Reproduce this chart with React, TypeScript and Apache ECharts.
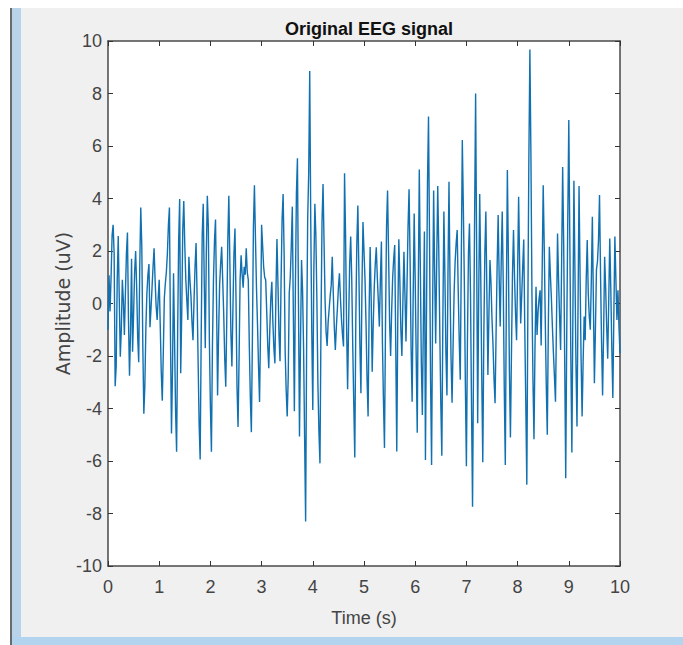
import React, { useEffect, useRef } from "react";
import * as echarts from "echarts";

const titleText = "Original EEG signal";
const xName = "Time (s)";
const yName = "Amplitude (uV)";
const samplePeriodS = 0.02;

const second0 = [-1, 1.08, -0.3, 1, 2.6, 3, 1.9, -3.15, -2.4, 0.9, 2.57, 0.2, -2.03, -1, 0.9, 0.1, -1.2, 0.4, 1.9, 2.7, -0.6, -2.75, -1.1, 1.7, -1.84, -0.4, 1.2, 2, 0.6, -1.3, -2.24, 1.4, 3.66, 2.2, -1.6, -4.2, -3.1, -0.9, 0.4, 1.1, 1.5, -0.9, -0.2, 0.6, 1.4, 2.1, 0.9, -0.1, -0.63, 0.2];
const second1 = [0.9, -0.8, -2.6, -3.7, -1.9, 0.2, 0.76, 1.2, 1.9, 3, 3.66, -1.2, -4.95, -2.5, 1.15, -1.4, -4.1, -5.65, -1.2, 2.4, 3.98, -2.66, -0.4, 2.8, 3.9, 2.2, 0.9, 0.1, -0.63, 1.78, 0.9, 0.3, -0.7, -1.4, 0.1, 1.4, 2.3, 0.3, -2.2, -4.6, -5.94, -1.3, 2.6, 3.8, 0.8, -1.7, 1.9, 4.1, 2.9, -1.4];
const second2 = [-3.9, -5.65, -1.6, 0.9, 2.4, 3.2, 0.1, -3.5, -1.2, 0.7, 1.5, 2.16, 0.9, -0.4, -2.1, -3.17, -0.6, 2.4, 4.1, 1.6, -1.1, -2.4, -0.2, 1.9, 2.86, 0.2, -3.2, -4.7, -2.1, 0.9, 1.84, 1.1, 0.6, 1.4, 1.1, 2.1, 1.2, 0.9, -1.6, -3.6, -4.9, -1.4, 2.9, 4.5, 2.5, 0.6, -0.8, -2.4, -3.75, -0.9];
const second3 = [3, 2.2, 1.4, 1, 0.9, -0.3, -1.6, -2.47, -1, 0.2, 0.83, -0.7, -1.7, -2.28, 0.4, 2.46, 0.7, -1.2, -2.2, 0.8, 3.2, 4.17, 1.9, -1.8, -3.3, -4.3, -2.8, 0.4, 1, 2.2, 3.69, -0.4, -4.1, 0.6, 4.2, 5.53, 0.1, -5.07, -1.5, 1.66, 0.5, -1.7, -5.1, -8.3, -1.4, 3.2, 5, 8.86, 3.1, -1.1];
const second4 = [-4.06, 1.2, 3.8, 2.6, 0.1, -3.1, -4.9, -6.09, -0.8, 3.1, 4.55, 2.3, 0.1, -1.1, -1.62, -0.7, -0.2, 0.3, 0.7, 1.78, 0.4, -0.9, -1.77, -0.9, -0.2, 0.6, 1.15, 0.2, -0.6, -1.2, -1.64, 4.96, 2.6, -0.9, -3.27, -0.7, 1.5, 2.55, 1, -1.6, -3.8, -5.87, -0.6, 2.3, 3.73, 1.2, -1.6, -3.42, 0.6, 3.1];
const second5 = [2, 0.9, -0.8, -2.9, -4.3, -0.3, 2.15, 0.2, -2.6, -0.8, 0.6, 1.5, 2.14, 1, 0.1, -0.88, 0.9, 2.36, -1.5, -3.7, -5.5, -0.8, 2.9, 4.3, 1.9, -0.7, -2, -0.3, 1, 1.7, 2.23, -1.6, -5.64, -0.6, 2.45, 0.9, -1, -2, 0.1, 1.97, 0.3, -1.45, 0.7, 2.9, 4.35, 1.7, -1.7, -3.74, 0.2, 3.43];
const second6 = [0.9, -2.1, -4.92, 0.6, 5.1, 1.4, -2.3, -4.25, -0.6, 2.74, -5.96, -0.6, 4.6, 7.12, 2.4, -2.9, -6.15, -0.3, 4.3, 1.2, -1.52, 1.6, 4.48, 2.1, -1, -3.8, -5.8, -0.7, 3.5, 1.1, -1.9, -3.5, 1.1, 4.64, 0.8, -2.1, -3.78, -1.6, 0.4, 1.6, 2.3, 2.8, 0.5, -1.4, -2.9, 1.6, 6.23, 3.7, 0.8, -3.1];
const second7 = [-6.2, -1.5, 1.9, 3.05, 0.4, -3.9, -7.74, -2.1, 3.2, 8, 2.1, -4.56, 0.2, 4.17, 1.1, -2.8, -6.05, -1.3, 1.9, 3.5, 0.4, -2.72, -0.4, 1.66, 0.8, -0.6, -1.6, -2.9, -3.8, -1.1, 1.4, 3.37, 1, -0.88, 1.6, 3.5, 0.7, -3.3, -6.15, 0.1, 5.09, 1.8, -2.6, -5.1, -1.9, 1.1, 2.8, 1, -0.4, -1.4];
const second8 = [1.2, 4.07, 1.5, -0.76, 0.3, 1.4, 2.44, -0.9, -3.8, -6.9, -0.3, 5.5, 9.68, 5.7, 0.4, -2.9, -5.17, -1.6, 0.64, -1.2, -0.3, 0.2, 0.5, -1.6, 1.3, 4.5, 2.2, -0.6, -3.1, -5, -0.9, 2.16, 1.1, 0.2, -0.9, -1.9, -2.8, -3.74, -0.6, 2.67, 0.9, -0.5, -1.77, 1.6, 5.2, 2.3, -2.2, -6.66, -1.1, 3.2];
const second9 = [6.99, 2.4, -2.1, -5.68, -0.4, 4.68, 1.2, -2.3, -4.69, -0.2, 4.48, 1.1, -2.1, -4.3, -2.2, -0.5, -1.4, 0.9, 2.42, 0.4, -0.5, -1, 0.9, 3.3, 0.1, -3.04, -1, 1.28, 1.6, 2.4, 4.13, 1.1, -1.5, -3.5, -1.1, 1.78, 0.6, -0.9, -2.1, 0.1, 2.48, 0.6, -1.7, -3.6, -0.4, 2.55, 0.9, -0.63, 0.5, -0.9, -1.9];

const amplitudeUV = [...second0, ...second1, ...second2, ...second3, ...second4, ...second5, ...second6, ...second7, ...second8, ...second9];
const signal = amplitudeUV.map((v, i) => [i * samplePeriodS, v]);

const tickFont = { color: "#444444", fontFamily: "'Liberation Sans', sans-serif", fontSize: 18 };
const frame = { lineStyle: { color: "#4a4a4a", width: 1.5 } };

export default function App() {
  const ref = useRef<HTMLDivElement>(null);
  useEffect(() => {
    document.body.style.margin = "0";
    const chart = echarts.init(ref.current!, null, { renderer: "svg" });
    const ticks = { show: true, inside: true, length: 5, lineStyle: { color: "#333", width: 1 } };
    chart.setOption({
      animation: false,
      backgroundColor: "#f0f0f0",
      title: {
        text: titleText,
        left: 364,
        top: 15,
        textAlign: "center",
        textStyle: { color: "#111", fontFamily: "'Liberation Sans', sans-serif", fontSize: 18, fontWeight: "bold" },
      },
      grid: { left: 108, right: 63, top: 41, bottom: 79, backgroundColor: "#fff", show: true, borderWidth: 0 },
      xAxis: [
        {
          type: "value", min: 0, max: 10, interval: 1, position: "bottom",
          name: xName, nameLocation: "middle", nameGap: 43,
          nameTextStyle: tickFont,
          axisLine: { show: true, onZero: false, ...frame },
          axisTick: ticks, splitLine: { show: false },
          axisLabel: { ...tickFont, margin: 12 },
        },
        {
          type: "value", min: 0, max: 10, interval: 1, position: "top",
          axisLine: { show: true, onZero: false, ...frame },
          axisTick: ticks, splitLine: { show: false }, axisLabel: { show: false },
        },
      ],
      yAxis: [
        {
          type: "value", min: -10, max: 10, interval: 2, position: "left",
          name: yName, nameLocation: "middle", nameGap: 36, nameMoveOverlap: false,
          nameTextStyle: { color: "#444444", fontFamily: "'DejaVu Sans', sans-serif", fontSize: 19 },
          axisLine: { show: true, onZero: false, ...frame },
          axisTick: ticks, splitLine: { show: false },
          axisLabel: { ...tickFont, margin: 6 },
        },
        {
          type: "value", min: -10, max: 10, interval: 2, position: "right",
          axisLine: { show: true, onZero: false, ...frame },
          axisTick: ticks, splitLine: { show: false }, axisLabel: { show: false },
        },
      ],
      series: [
        {
          type: "line", data: signal, showSymbol: false, symbol: "none",
          lineStyle: { color: "#1070b0", width: 1.4 },
          clip: true, z: 1,
        },
      ],
      graphic: [
        { type: "rect", silent: true, z: -1, shape: { x: 0, y: 0, width: 683, height: 8 }, style: { fill: "#ffffff" } },
        { type: "rect", silent: true, z: -1, shape: { x: 0, y: 0, width: 11, height: 645 }, style: { fill: "#ffffff" } },
        { type: "rect", silent: true, z: -1, shape: { x: 10, y: 8, width: 2, height: 637 }, style: { fill: "#6a6a6a" } },
        { type: "rect", silent: true, z: -1, shape: { x: 12, y: 8, width: 9, height: 637 }, style: { fill: "#b9d3ea" } },
        { type: "rect", silent: true, z: -1, shape: { x: 12, y: 637, width: 671, height: 8 }, style: { fill: "#b3d4ee" } },
      ],
    });
    return () => chart.dispose();
  }, []);
  return <div ref={ref} style={{ position: "fixed", left: 0, top: 0, width: 683, height: 645 }} />;
}
